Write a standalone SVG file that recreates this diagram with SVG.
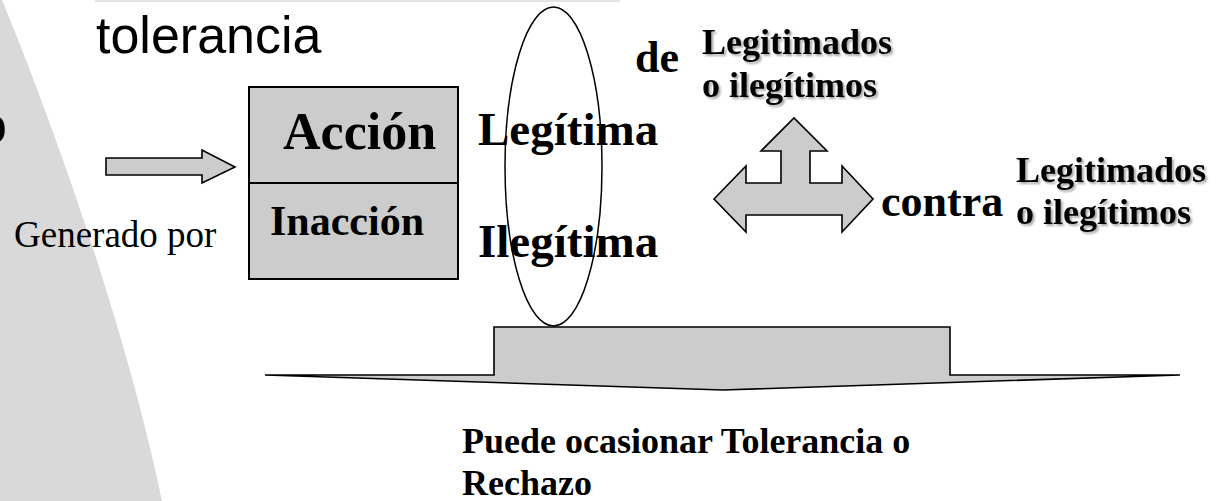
<svg xmlns="http://www.w3.org/2000/svg" width="1224" height="501" viewBox="0 0 1224 501">
  <defs>
    <filter id="sh" x="-10%" y="-20%" width="130%" height="150%">
      <feDropShadow dx="2" dy="2" stdDeviation="1.2" flood-color="#000" flood-opacity="0.35"/>
    </filter>
    <style>
      .serif { font-family: "Liberation Serif", "Times New Roman", serif; fill: #000; }
      .b { font-weight: bold; }
      .sans { font-family: "Liberation Sans", Arial, sans-serif; fill: #000; }
      .shape { fill: #cccccc; stroke: #000; stroke-width: 1.6; stroke-linejoin: miter; }
      .box { fill: #cccccc; stroke: #000; stroke-width: 2; }
      .lbl { font-size: 36px; filter: url(#sh); }
    </style>
  </defs>
  <rect width="1224" height="501" fill="#ffffff"/>

  <g id="background">
    <path d="M0,0 L2,0 C35,80 120,300 162,501 L0,501 Z" fill="#d9d9d9"/>
    <rect x="95" y="0" width="525" height="2" fill="#e4e4e4"/>
    <text class="sans" x="-22" y="143" font-size="52">o</text>
  </g>

  <g id="title">
    <text class="sans" x="96" y="53" font-size="52">tolerancia</text>
  </g>

  <g id="generado">
    <text class="serif" x="14" y="247" font-size="37">Generado por</text>
  </g>

  <g id="node-accion">
    <rect class="box" x="249" y="87" width="209" height="96"/>
    <text class="serif b" x="283" y="149" font-size="52">Acción</text>
  </g>
  <g id="node-inaccion">
    <rect class="box" x="249" y="183" width="209" height="96"/>
    <text class="serif b" x="270" y="235" font-size="42">Inacción</text>
  </g>

  <g id="node-legitimidad">
    <text class="serif b" x="478" y="145" font-size="47">Legítima</text>
    <text class="serif b" x="478" y="257" font-size="47">Ilegítima</text>
    <ellipse cx="553.5" cy="166.5" rx="48.5" ry="159.5" fill="none" stroke="#000" stroke-width="1.5"/>
  </g>

  <g id="node-de">
    <text class="serif b" x="635" y="72" font-size="44">de</text>
    <text class="serif b lbl" x="702" y="54">Legitimados</text>
    <text class="serif b lbl" x="702" y="97">o ilegítimos</text>
  </g>

  <g id="node-contra">
    <text class="serif b" x="881" y="216" font-size="44">contra</text>
    <text class="serif b lbl" x="1016" y="182">Legitimados</text>
    <text class="serif b lbl" x="1016" y="224">o ilegítimos</text>
  </g>

  <g id="connectors">
    <polygon class="shape" points="106,158 202,158 202,150 235,167 202,183 202,175 106,175"/>
    <polygon class="shape" points="714,199 746,166 746,183 781,183 781,151 761,151 794,118 827,151 810,151 810,183 842,183 842,166 873,199 842,232 842,215 746,215 746,232"/>
    <polygon class="shape" stroke-width="2" points="494,327 950,327 950,375 1180,375 723,390 265,375 494,375"/>
  </g>

  <g id="result">
    <text class="serif b" x="462" y="453" font-size="36">Puede ocasionar Tolerancia o</text>
    <text class="serif b" x="462" y="495" font-size="36">Rechazo</text>
  </g>
</svg>
